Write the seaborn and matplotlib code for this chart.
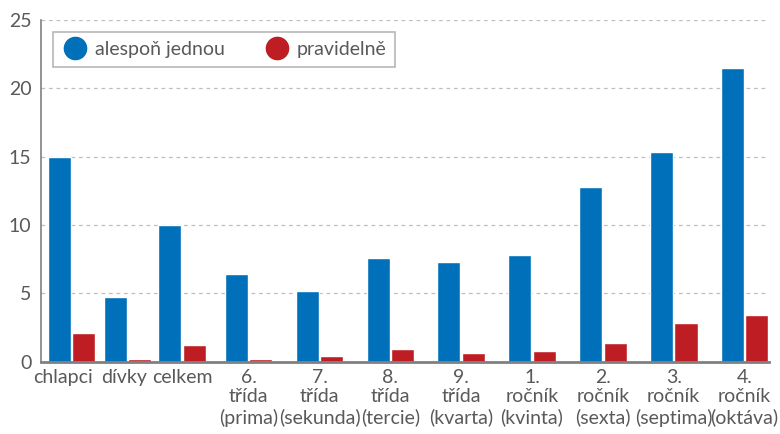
import matplotlib
matplotlib.use('Agg')
import matplotlib.pyplot as plt
import matplotlib.transforms as mtransforms
import pandas as pd
import seaborn as sns
from matplotlib.lines import Line2D

categories = ['chlapci', 'dívky', 'celkem', '6.\ntřída\n(prima)', '7.\ntřída\n(sekunda)',
              '8.\ntřída\n(tercie)', '9.\ntřída\n(kvarta)', '1.\nročník\n(kvinta)',
              '2.\nročník\n(sexta)', '3.\nročník\n(septima)', '4.\nročník\n(oktáva)']
alespon_jednou = [15.0, 4.7, 10.0, 6.4, 5.2, 7.6, 7.3, 7.8, 12.8, 15.3, 21.5]
pravidelne = [2.1, 0.2, 1.2, 0.2, 0.4, 0.9, 0.6, 0.8, 1.4, 2.8, 3.4]
series = ['alespoň jednou', 'pravidelně']
colors = ['#0070BA', '#BE1E23']

# group slots: the first three groups sit closer together than the grades
slots = [0, 0.79, 1.56, 2.5, 3.5, 4.5, 5.5, 6.5, 7.5, 8.5, 9.5]

df = pd.DataFrame({
    'slot': slots * 2,
    'hodnota': alespon_jednou + pravidelne,
    'serie': [series[0]] * len(categories) + [series[1]] * len(categories),
})

sns.set_style('white')
plt.rcParams['font.family'] = ['Lato', 'DejaVu Sans']
text_col = '#595959'

fig = plt.figure(figsize=(7.8, 4.34), dpi=100)
ax = fig.add_axes([0.0526, 0.1666, 0.9334, 0.788])

sns.barplot(data=df, x='slot', y='hodnota', hue='serie', native_scale=True,
            hue_order=series, palette=colors, width=0.9, gap=0.06,
            saturation=1, legend=False, ax=ax)

ax.set_ylim(0, 25)
ax.set_xlim(-0.43, 9.846)
ax.set_xticks(slots)
ax.set_xticklabels(categories)
ax.set_yticks([0, 5, 10, 15, 20, 25])
ax.yaxis.grid(True, linestyle=(0, (3, 3)), color='#BFBFBF', linewidth=0.9)
ax.xaxis.grid(False)
ax.set_axisbelow(True)
ax.set_xlabel('')
ax.set_ylabel('')
ax.tick_params(axis='both', length=0, colors=text_col, labelsize=14)
ax.tick_params(axis='x', pad=5)
ax.tick_params(axis='y', pad=7)
for lbl in ax.get_xticklabels():
    lbl.set_linespacing(1.2)

# nudge the first two labels left a little, as in the original
xlabels = ax.get_xticklabels()
for lbl, dx in [(xlabels[0], -8), (xlabels[1], -3)]:
    lbl.set_transform(lbl.get_transform() +
                      mtransforms.ScaledTranslation(dx / 100, 0, fig.dpi_scale_trans))

for s in ['top', 'right']:
    ax.spines[s].set_visible(False)
ax.spines['left'].set_color('#808080')
ax.spines['left'].set_linewidth(1.2)
ax.spines['bottom'].set_color('#808080')
ax.spines['bottom'].set_linewidth(2)

handles = [Line2D([], [], marker='o', linestyle='', markersize=16, color=c) for c in colors]
leg = ax.legend(handles, series, ncol=2, loc='upper left', bbox_to_anchor=(0.0165, 0.964),
                borderaxespad=0, frameon=True, fancybox=False, edgecolor='#A6A6A6',
                fontsize=14, handletextpad=0.3, columnspacing=2.0, borderpad=0.45,
                handlelength=1.4)
leg.get_frame().set_linewidth(1.2)
for t in leg.get_texts():
    t.set_color(text_col)

fig.savefig('out.png', dpi=100)
